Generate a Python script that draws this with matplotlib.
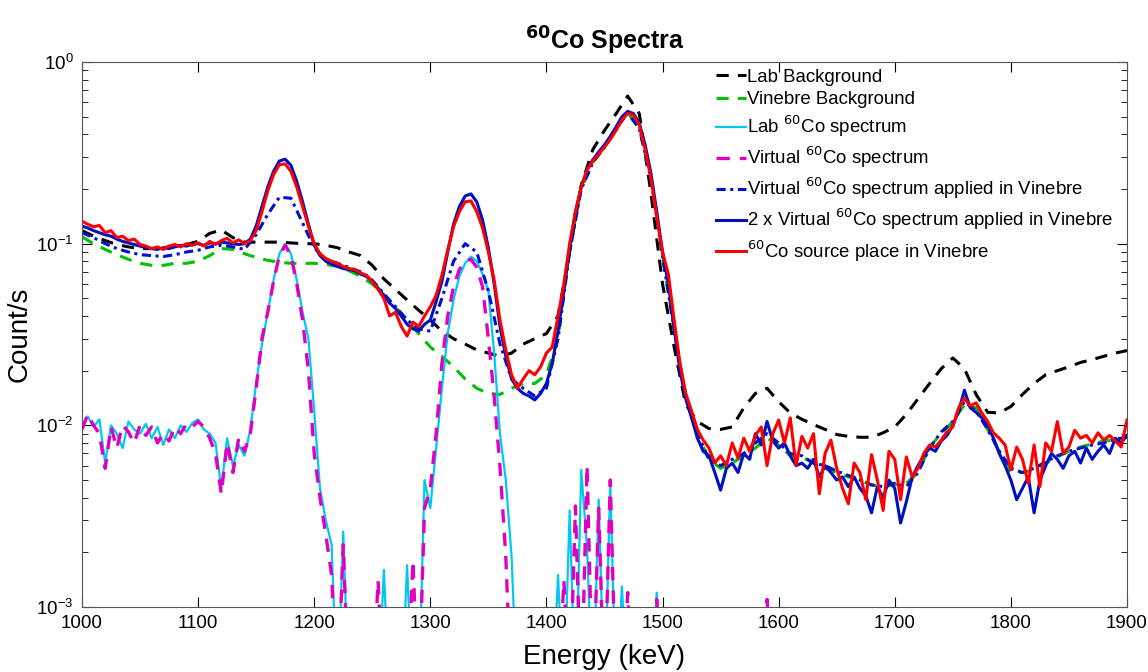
import numpy as np
import matplotlib
matplotlib.use("Agg")
import matplotlib.pyplot as plt

plt.rcParams['font.family'] = ['Liberation Sans', 'DejaVu Sans']

# energy grids (keV)
e5 = np.arange(1000, 1905, 5)
e10 = np.arange(1000, 1910, 10)

LOW = 3e-4  # below the plotted range

lab_bg = [
    0.118, 0.110, 0.104, 0.099, 0.096, 0.094, 0.094, 0.095, 0.097, 0.099,
    0.103, 0.114, 0.119, 0.108, 0.102, 0.102, 0.102, 0.102, 0.101, 0.100,
    0.100, 0.098, 0.095, 0.090, 0.086, 0.076, 0.064, 0.056, 0.049, 0.043,
    0.038, 0.033, 0.030, 0.028, 0.026, 0.025, 0.024, 0.025, 0.028, 0.030,
    0.032, 0.040, 0.090, 0.210, 0.330, 0.420, 0.520, 0.650, 0.520, 0.190,
    0.060, 0.027, 0.013, 0.0105, 0.0096, 0.0095, 0.0098, 0.0125, 0.0150, 0.0160,
    0.0135, 0.0117, 0.0108, 0.0101, 0.0095, 0.0089, 0.0087, 0.0086, 0.0086, 0.0091,
    0.0098, 0.0115, 0.0140, 0.0170, 0.0205, 0.0235, 0.0205, 0.0148, 0.0118, 0.0117,
    0.0127, 0.0148, 0.0170, 0.0190, 0.0200, 0.0210, 0.0222, 0.0230, 0.0240, 0.0250,
    0.0258]

vin_bg = [
    0.109, 0.100, 0.093, 0.087, 0.082, 0.078, 0.076, 0.076, 0.078, 0.078,
    0.080, 0.086, 0.094, 0.093, 0.088, 0.084, 0.081, 0.079, 0.078, 0.078,
    0.078, 0.077, 0.075, 0.071, 0.066, 0.060, 0.052, 0.045, 0.038, 0.032,
    0.027, 0.024, 0.021, 0.018, 0.016, 0.015, 0.0148, 0.016, 0.017, 0.017,
    0.019, 0.030, 0.095, 0.200, 0.280, 0.340, 0.430, 0.525, 0.430, 0.230,
    0.085, 0.034, 0.014, 0.009, 0.0065, 0.0058, 0.0062, 0.0068, 0.0075, 0.0085,
    0.0078, 0.0068, 0.0067, 0.0062, 0.0058, 0.0055, 0.0052, 0.0050, 0.0047, 0.0046,
    0.0047, 0.0048, 0.0055, 0.0076, 0.0090, 0.0105, 0.0130, 0.0125, 0.0095, 0.0072,
    0.0055, 0.0055, 0.0057, 0.0062, 0.0067, 0.0072, 0.0076, 0.0079, 0.0082, 0.0083,
    0.0086]

virt_vin = [
    0.115, 0.108, 0.100, 0.094, 0.090, 0.087, 0.086, 0.085, 0.087, 0.090,
    0.092, 0.096, 0.098, 0.096, 0.093, 0.112, 0.145, 0.180, 0.178, 0.130,
    0.095, 0.082, 0.078, 0.074, 0.070, 0.063, 0.053, 0.045, 0.038, 0.034,
    0.033, 0.050, 0.080, 0.100, 0.090, 0.055, 0.028, 0.018, 0.016, 0.0145,
    0.016, 0.030, 0.090, 0.200, 0.280, 0.340, 0.430, 0.525, 0.430, 0.230,
    0.085, 0.034, 0.014, 0.009, 0.0065, 0.006, 0.0065, 0.007, 0.008, 0.009,
    0.008, 0.007, 0.0068, 0.0062, 0.006, 0.0056, 0.0053, 0.005, 0.0047, 0.0046,
    0.0048, 0.0046, 0.0055, 0.0075, 0.0092, 0.0105, 0.0135, 0.012, 0.0095, 0.0072,
    0.0058, 0.0055, 0.0058, 0.0063, 0.0068, 0.0072, 0.0075, 0.0078, 0.008, 0.0084,
    0.0086]

lab_co = [
    0.0100, 0.0112, 0.0098, 0.0108, 0.0062, 0.0100, 0.0090, 0.0075, 0.0105, 0.0095,
    0.0090, 0.0102, 0.0085, 0.0098, 0.0078, 0.0095, 0.0085, 0.0100, 0.0092, 0.0103,
    0.0108, 0.0095, 0.0090, 0.0080, 0.0045, 0.0085, 0.0060, 0.0078, 0.0068, 0.0095,
    0.0170, 0.0280, 0.0420, 0.0630, 0.0880, 0.1000, 0.0880, 0.0630, 0.0420, 0.0300,
    0.0120, 0.0045, 0.0030, 0.0022, LOW, 0.0026, LOW, LOW, LOW, LOW,
    LOW, LOW, 0.0016, LOW, LOW, LOW, 0.0017, LOW, LOW, 0.0050,
    0.0035, 0.0075, 0.0160, 0.0320, 0.0490, 0.0660, 0.0780, 0.0850, 0.0800, 0.0680,
    0.0550, 0.0250, 0.0090, 0.0050, 0.0019, LOW, LOW, LOW, LOW, LOW,
    LOW, LOW, 0.0015, LOW, 0.0034, LOW, 0.0057, 0.0021, LOW, 0.0039,
    LOW, 0.0048, LOW, 0.0013, LOW, LOW, LOW, LOW, LOW, 0.0012,
    ] + [LOW] * 81

virt_co = [
    0.0095, 0.0115, 0.0100, 0.0090, 0.0058, 0.0098, 0.0075, 0.0100, 0.0092, 0.0080,
    0.0100, 0.0088, 0.0098, 0.0080, 0.0090, 0.0082, 0.0098, 0.0090, 0.0102, 0.0098,
    0.0105, 0.0098, 0.0085, 0.0070, 0.0042, 0.0080, 0.0055, 0.0085, 0.0072, 0.0090,
    0.0160, 0.0300, 0.0420, 0.0620, 0.0860, 0.0980, 0.0860, 0.0600, 0.0380, 0.0200,
    0.0070, 0.0040, 0.0025, 0.0015, LOW, 0.0022, LOW, LOW, LOW, LOW,
    LOW, 0.0014, LOW, LOW, LOW, LOW, LOW, 0.0018, LOW, 0.0035,
    0.0045, 0.0090, 0.0220, 0.0400, 0.0580, 0.0720, 0.0800, 0.0820, 0.0740, 0.0580,
    0.0300, 0.0144, 0.0059, 0.0019, LOW, LOW, LOW, LOW, LOW, LOW,
    LOW, LOW, LOW, 0.0014, LOW, 0.0036, LOW, 0.0060, LOW, 0.0035,
    LOW, 0.0050, LOW, LOW, 0.0012, LOW, LOW, LOW, LOW, 0.0011,
    LOW, LOW, LOW, LOW, LOW, LOW, LOW, LOW, LOW, LOW,
    LOW, LOW, LOW, LOW, LOW, LOW, LOW, LOW, 0.0011, LOW,
    ] + [LOW] * 61

virt2_vin = [
    0.125, 0.122, 0.118, 0.115, 0.112, 0.110, 0.106, 0.103, 0.101, 0.099,
    0.097, 0.095, 0.094, 0.093, 0.095, 0.094, 0.096, 0.098, 0.097, 0.099,
    0.100, 0.098, 0.101, 0.100, 0.102, 0.101, 0.100, 0.099, 0.100, 0.106,
    0.125, 0.160, 0.205, 0.250, 0.285, 0.292, 0.270, 0.220, 0.170, 0.128,
    0.098, 0.086, 0.080, 0.077, 0.075, 0.073, 0.072, 0.071, 0.068, 0.066,
    0.062, 0.057, 0.052, 0.047, 0.044, 0.040, 0.036, 0.034, 0.033, 0.036,
    0.038, 0.048, 0.062, 0.090, 0.128, 0.160, 0.183, 0.188, 0.170, 0.135,
    0.095, 0.060, 0.035, 0.024, 0.018, 0.016, 0.015, 0.0145, 0.0138, 0.015,
    0.017, 0.022, 0.033, 0.055, 0.095, 0.150, 0.205, 0.255, 0.290, 0.320,
    0.350, 0.390, 0.440, 0.500, 0.535, 0.520, 0.460, 0.350, 0.245, 0.150,
    0.090, 0.060, 0.034, 0.020, 0.014, 0.011, 0.0085, 0.0072, 0.0068, 0.0055,
    0.0044, 0.0058, 0.0062, 0.0055, 0.0070, 0.0065, 0.0090, 0.0078, 0.0105, 0.0082,
    0.0075, 0.0080, 0.0068, 0.0060, 0.0062, 0.0058, 0.0065, 0.0052, 0.0060, 0.0055,
    0.0050, 0.0052, 0.0046, 0.0052, 0.0045, 0.0041, 0.0033, 0.0046, 0.0040, 0.0050,
    0.0045, 0.0029, 0.0038, 0.0052, 0.0060, 0.0068, 0.0075, 0.0072, 0.0082, 0.0088,
    0.0100, 0.0120, 0.0156, 0.0125, 0.0118, 0.0110, 0.0100, 0.0085, 0.0070, 0.0060,
    0.0050, 0.0039, 0.0045, 0.0052, 0.0033, 0.0050, 0.0060, 0.0070, 0.0065, 0.0058,
    0.0068, 0.0072, 0.0062, 0.0075, 0.0065, 0.0072, 0.0078, 0.0070, 0.0085, 0.0080,
    0.0088]

source_vin = [
    0.133, 0.128, 0.124, 0.126, 0.115, 0.118, 0.108, 0.110, 0.104, 0.106,
    0.099, 0.097, 0.094, 0.096, 0.093, 0.097, 0.099, 0.096, 0.100, 0.098,
    0.101, 0.097, 0.103, 0.099, 0.104, 0.107, 0.101, 0.105, 0.100, 0.104,
    0.118, 0.150, 0.195, 0.240, 0.272, 0.275, 0.250, 0.205, 0.160, 0.125,
    0.100, 0.088, 0.083, 0.080, 0.078, 0.075, 0.073, 0.072, 0.069, 0.067,
    0.062, 0.056, 0.050, 0.040, 0.042, 0.035, 0.031, 0.037, 0.035, 0.040,
    0.045, 0.052, 0.067, 0.092, 0.124, 0.150, 0.170, 0.172, 0.150, 0.122,
    0.090, 0.063, 0.038, 0.026, 0.019, 0.016, 0.018, 0.020, 0.019, 0.021,
    0.025, 0.027, 0.040, 0.060, 0.100, 0.150, 0.205, 0.255, 0.285, 0.310,
    0.340, 0.375, 0.420, 0.480, 0.520, 0.510, 0.450, 0.330, 0.230, 0.140,
    0.090, 0.068, 0.038, 0.022, 0.015, 0.012, 0.0095, 0.0083, 0.0075, 0.0062,
    0.0068, 0.0060, 0.0080, 0.0066, 0.0085, 0.0072, 0.0088, 0.0098, 0.0060, 0.0090,
    0.0107, 0.0080, 0.0110, 0.0060, 0.0087, 0.0075, 0.0090, 0.0042, 0.0070, 0.0083,
    0.0058, 0.0045, 0.0037, 0.0062, 0.0055, 0.0039, 0.0069, 0.0050, 0.0034, 0.0072,
    0.0065, 0.0039, 0.0067, 0.0052, 0.0058, 0.0070, 0.0078, 0.0076, 0.0083, 0.0092,
    0.0098, 0.0125, 0.0141, 0.0128, 0.0133, 0.0117, 0.0105, 0.0091, 0.0085, 0.0078,
    0.0057, 0.0076, 0.0065, 0.0048, 0.0078, 0.0046, 0.0080, 0.0072, 0.0105, 0.0070,
    0.0076, 0.0094, 0.0085, 0.0088, 0.0080, 0.0091, 0.0083, 0.0088, 0.0082, 0.0076,
    0.0107]

fig = plt.figure(figsize=(11.48, 6.72), dpi=100)
ax = fig.add_axes([0.0714, 0.0967, 0.9103, 0.811])

ax.plot(e10, lab_bg, color='black', lw=2.2, ls=(0, (4, 3)), label='Lab Background')
ax.plot(e10, vin_bg, color='#00c000', lw=2.2, ls=(0, (4, 3)), label='Vinebre Background')
ax.plot(e5, lab_co, color='#00c8f0', lw=1.6, label=r'Lab $^{60}$Co spectrum')
ax.plot(e5, virt_co, color='#e000c0', lw=2.4, ls=(0, (4, 3)), label=r'Virtual $^{60}$Co spectrum')
ax.plot(e10, virt_vin, color='#0010d0', lw=2.2, ls=(0, (3, 1.5, 1, 1.5)),
        label=r'Virtual $^{60}$Co spectrum applied in Vinebre')
ax.plot(e5, virt2_vin, color='#0010c0', lw=2.2,
        label=r'2 x Virtual $^{60}$Co spectrum applied in Vinebre')
ax.plot(e5, source_vin, color='#ff0000', lw=2.2, label=r'$^{60}$Co source place in Vinebre')

ax.set_yscale('log')
ax.set_xlim(1000, 1900)
ax.set_ylim(1e-3, 1e0)
ax.set_xticks(np.arange(1000, 1901, 100))
ax.tick_params(which='both', direction='in', top=True, right=True, labelsize=13.5, pad=6)
ax.tick_params(which='major', length=7)
ax.tick_params(which='minor', length=4)
for s in ax.spines.values():
    s.set_color('#555555')

ax.set_xlabel('Energy (keV)', fontsize=20)
ax.set_ylabel('Count/s', fontsize=20)
ax.xaxis.set_label_coords(0.5, -0.068)
ax.yaxis.set_label_coords(-0.047, 0.5)
ax.set_title(r'$\mathbf{^{60}}$Co Spectra', fontsize=18, fontweight='bold', pad=9)

ax.legend(loc='upper left', bbox_to_anchor=(0.594, 1.012), frameon=False, fontsize=13.4,
          handlelength=1.6, handletextpad=0.1, labelspacing=0.3, borderaxespad=0.3)

fig.savefig('out.png', dpi=100)
